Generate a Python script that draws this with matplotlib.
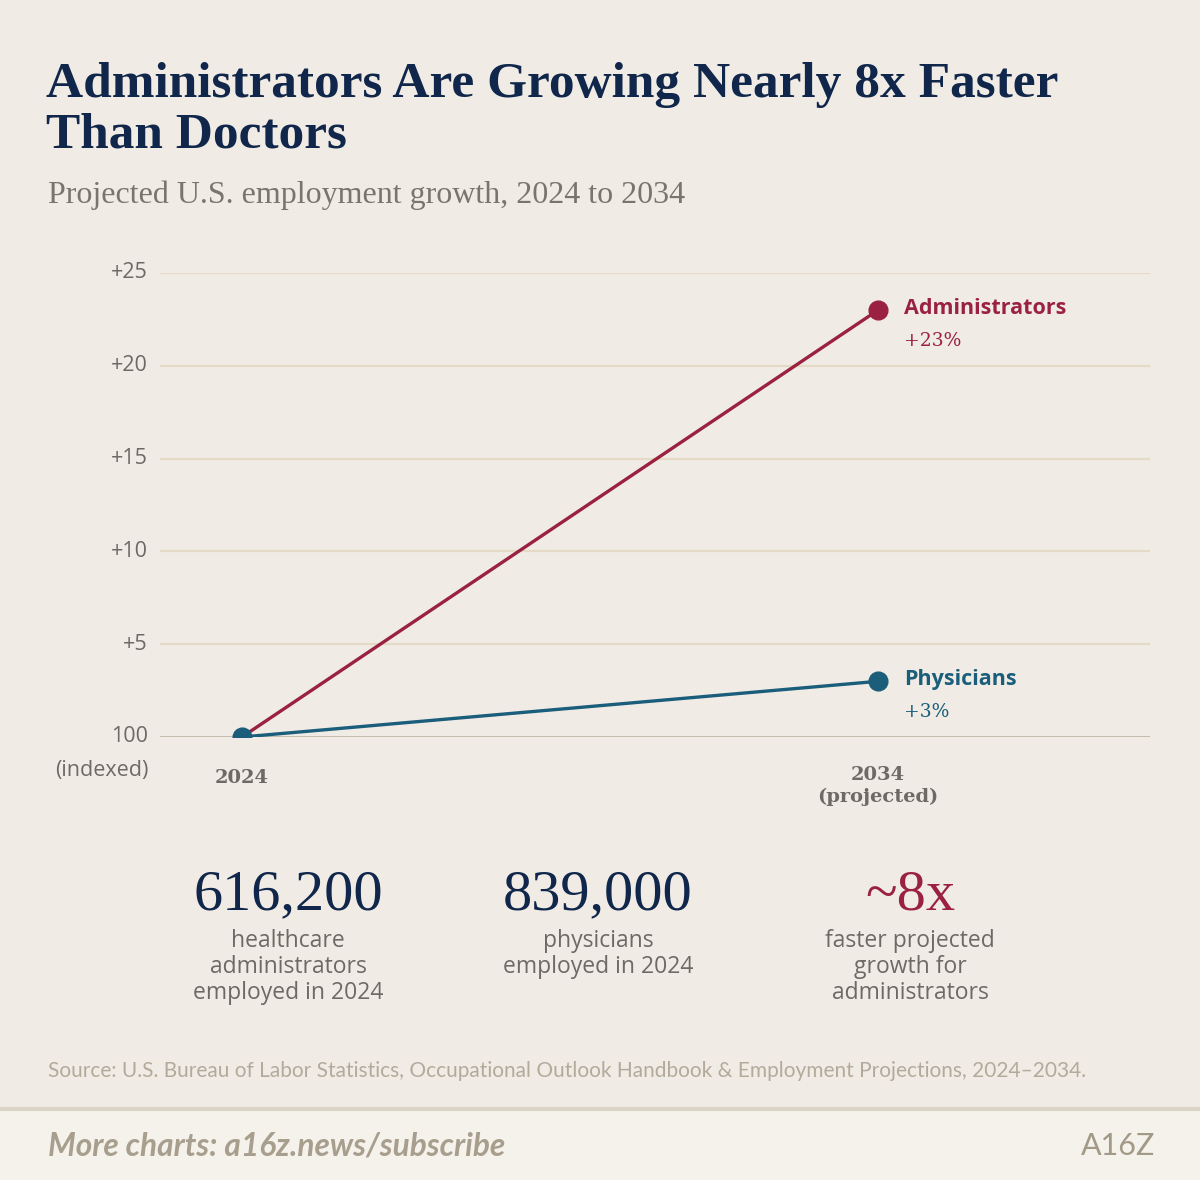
import matplotlib
matplotlib.use("Agg")
import matplotlib.pyplot as plt
from matplotlib.patches import Rectangle, Arc

# ---------------- data ----------------
years = ["2024", "2034\n(projected)"]
series_names = ["Administrators", "Physicians"]
admin_growth = [0, 23]
phys_growth = [0, 3]
ytick_values = [0, 5, 10, 15, 20, 25]
ytick_labels = ["100", "+5", "+10", "+15", "+20", "+25"]
stat_values = ["616,200", "839,000", "~8x"]
stat_descriptions = ["healthcare\nadministrators\nemployed in 2024",
                     "physicians\nemployed in 2024",
                     "faster projected\ngrowth for\nadministrators"]

title_lines = ["Administrators Are Growing Nearly 8x Faster", "Than Doctors"]
subtitle = "Projected U.S. employment growth, 2024 to 2034"
source = "Source: U.S. Bureau of Labor Statistics, Occupational Outlook Handbook & Employment Projections, 2024\u20132034."
footer = "More charts: a16z.news/subscribe"

# ---------------- style ----------------
BG = "#F0ECE5"
FOOT_BG = "#F5F2EC"
NAVY = "#10264A"
RED = "#9A2240"
TEAL = "#1A5E7B"
GRID = "#E4DAC6"
BASE = "#B7AE9F"
GRAY = "#6E6965"
LIGHT = "#B3AA9C"

W, H = 1200, 1180
fig = plt.figure(figsize=(W / 100, H / 100), dpi=100, facecolor=BG)

def fx(px):
    return px / W

def fy(py):
    return 1 - py / H

SERIF = ["Liberation Serif", "DejaVu Serif"]
WSERIF = ["DejaVu Serif"]
SANS = ["Open Sans", "DejaVu Sans"]
LATO = ["Lato", "DejaVu Sans"]

# ---------------- footer band ----------------
fig.patches.append(Rectangle((0, 0), 1, fy(1108), transform=fig.transFigure,
                             facecolor=FOOT_BG, edgecolor="none", zorder=0))
fax = fig.add_axes([0, 0, 1, fy(1110)])
fax.set_xlim(0, W)
fax.set_ylim(H, 1110)
fax.axis("off")
for cx in range(0, W + 120, 120):
    for r in (55, 85, 115):
        fax.add_patch(Arc((cx, 1200), 2 * r, 2 * r, theta1=180, theta2=360,
                          color="#EAE4D8", lw=0.8))
fig.add_artist(plt.Line2D([0, 1], [fy(1109), fy(1109)], transform=fig.transFigure,
                          color="#DCD5C7", lw=3))

# ---------------- chart ----------------
ax_left, ax_right, ax_top, ax_bot = 160, 1150, 273, 737
ax = fig.add_axes([fx(ax_left), fy(ax_bot), fx(ax_right - ax_left), (ax_bot - ax_top) / H])
ax.set_facecolor("none")
x0_px, x1_px = 242, 878
unit = x1_px - x0_px
ax.set_xlim(-(x0_px - ax_left) / unit, 1 + (ax_right - x1_px) / unit)
ax.set_ylim(0, 25)
for s in ax.spines.values():
    s.set_visible(False)
ax.set_xticks([])
ax.set_yticks([])
for v in ytick_values[1:]:
    ax.axhline(v, color=GRID, lw=1.6, zorder=1)
ax.axhline(0, color=BASE, lw=1.8, zorder=1)

xs = [0, 1]
ax.plot(xs, admin_growth, color=RED, lw=2.4, zorder=3, solid_capstyle="round")
ax.plot(xs, phys_growth, color=TEAL, lw=2.4, zorder=3, solid_capstyle="round")
ax.plot(xs[1], admin_growth[1], "o", color=RED, ms=13.5, zorder=4)
ax.plot(xs[1], phys_growth[1], "o", color=TEAL, ms=13.5, zorder=4)
ax.plot(xs[0], phys_growth[0], "o", color=TEAL, ms=13.5, zorder=5)

# y tick labels
lab_x = -(x0_px - 148) / unit
for v, lab in zip(ytick_values, ytick_labels):
    ax.text(lab_x, v, lab, ha="right", va="center", fontsize=15.5, color=GRAY, family=SANS)
ax.text(lab_x, -1.8, "(indexed)", ha="right", va="center", fontsize=15.5,
        color=GRAY, family=SANS)

# x labels
ax.text(0, -2.2, years[0], ha="center", va="center", fontsize=14, color=GRAY,
        family=WSERIF, fontweight="bold")
ax.text(1, -2.65, years[1], ha="center", va="center", fontsize=14, color=GRAY,
        family=WSERIF, fontweight="bold", linespacing=1.25)

# series labels
for name, vals, col in [(series_names[0], admin_growth, RED), (series_names[1], phys_growth, TEAL)]:
    ax.annotate(name, (1, vals[1]), xytext=(19, 1), textcoords="offset points",
                ha="left", va="center", fontsize=15.5, color=col, family=SANS, fontweight="bold")
    ax.annotate(f"+{vals[1]}%", (1, vals[1]), xytext=(19, -22), textcoords="offset points",
                ha="left", va="center", fontsize=13.5, color=col, family=WSERIF)

# ---------------- titles ----------------
fig.text(fx(46), fy(97), title_lines[0], ha="left", va="baseline", fontsize=37, color=NAVY,
         family=SERIF, fontweight="bold")
fig.text(fx(46), fy(148), title_lines[1], ha="left", va="baseline", fontsize=37, color=NAVY,
         family=SERIF, fontweight="bold")
fig.text(fx(48), fy(203), subtitle, ha="left", va="baseline", fontsize=23, color="#7A746F",
         family=SERIF)

# ---------------- stats ----------------
stat_x = [288, 598, 910]
stat_cols = [NAVY, NAVY, RED]
for x, val, desc, col in zip(stat_x, stat_values, stat_descriptions, stat_cols):
    fig.text(fx(x), fy(909), val, ha="center", va="baseline", fontsize=42, color=col,
             family=SERIF)
    fig.text(fx(x), fy(929), desc, ha="center", va="top", fontsize=16.5, color=GRAY,
             family=SANS, linespacing=1.12)

# ---------------- source ----------------
fig.text(fx(48), fy(1071), source, ha="left", va="center", fontsize=15, color=LIGHT,
         family=LATO)

# ---------------- footer text ----------------
fig.text(fx(48), fy(1146), footer, ha="left", va="center", fontsize=22.8, color="#A89E8D",
         family=LATO, fontweight="bold", style="italic")
fig.text(fx(1155), fy(1146), "A16Z", ha="right", va="center", fontsize=22, color="#A29986",
         family=LATO)

fig.savefig("out.png", dpi=100, facecolor=BG)
